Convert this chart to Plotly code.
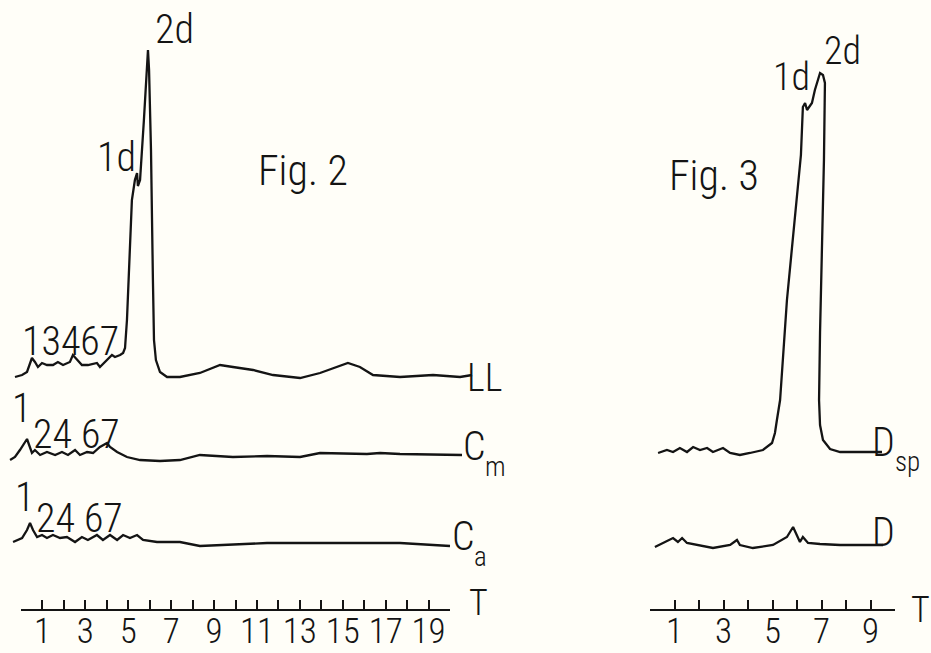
import plotly.graph_objects as go

W, H = 931, 653
INK = "#141414"
BG = "#fffef8"
FONT = "Roboto Condensed, Liberation Sans Narrow, DejaVu Sans Condensed, sans-serif"

# ---------------- Fig. 2 : elution time T (units) vs. signal (arbitrary units) ----
LL_T = [-0.28, 0.05, 0.28, 0.51, 0.65, 0.79, 0.98, 1.21, 1.49, 1.72, 1.96, 2.28, 2.42,
        2.61, 2.84, 3.12, 3.54, 3.68, 4.01, 4.24, 4.38, 4.62, 4.76, 4.85, 4.94, 5.08,
        5.17, 5.31, 5.41, 5.45, 5.55, 5.73, 5.87, 5.92, 5.97, 6.06, 6.15, 6.20, 6.29,
        6.48, 6.81, 7.41, 8.34, 9.28, 9.88, 10.82, 11.75, 13.01, 13.94, 14.73, 15.24,
        15.80, 16.41, 17.67, 19.21, 20.47, 21.03]
LL_A = [0, 2, 5, 19, 15, 10, 14, 12, 12, 15, 12, 15, 22,
        17, 12, 12, 14, 10, 17, 22, 20, 22, 24, 29, 57, 137,
        177, 197, 204, 191, 197, 257, 312, 327, 307, 227, 97, 37, 17,
        5, 0, 0, 4, 12, 10, 7, 2, -1, 4, 10, 14,
        10, 2, 0, 2, 0, 2]

CM_T = [-0.51, -0.28, -0.05, 0.28, 0.51, 0.65, 0.89, 1.21, 1.59, 1.91, 2.19, 2.52, 2.75,
        3.08, 3.36, 3.68, 4.01, 4.15, 4.48, 4.94, 5.55, 6.48, 7.41, 8.34, 9.88, 11.47,
        13.01, 13.94, 16.13, 16.74, 17.67, 20.56]
CM_A = [-3, 0, 7, 18, 4, 7, 2, 5, 2, 5, 2, 7, 2,
        5, 4, 10, 14, 10, 5, 0, -3, -4, -3, 2, 0, 1,
        0, 4, 3, 4, 3, 2]

CA_T = [-0.37, 0.05, 0.28, 0.42, 0.56, 0.75, 0.98, 1.21, 1.49, 1.82, 2.14, 2.52, 2.84,
        3.12, 3.54, 3.82, 4.15, 4.48, 4.76, 5.08, 5.41, 5.69, 6.34, 7.41, 8.34, 11.47,
        14.55, 17.67, 20.0]
CA_A = [1, 5, 13, 20, 13, 6, 8, 5, 8, 5, 6, 1, 6,
        3, 8, 3, 8, 3, 8, 5, 8, 3, 1, 1, -3, 0,
        0, 0, -3]

FIG2_LABEL_TICKS = [1, 3, 5, 7, 9, 11, 13, 15, 17, 19]
FIG2_LABELS = [str(t) for t in FIG2_LABEL_TICKS]

# ---------------- Fig. 3 ---------------------------------------------------------
DSP_T = [0.33, 0.69, 0.94, 1.22, 1.51, 1.76, 2.04, 2.33, 2.57, 2.98, 3.27, 3.67, 4.08,
         4.61, 4.98, 5.10, 5.18, 5.31, 5.59, 5.84, 6.16, 6.24, 6.33, 6.41, 6.61, 6.73,
         6.94, 7.06, 7.14, 7.10, 7.02, 6.94, 6.90, 6.94, 7.06, 7.35, 7.76, 8.45, 9.47]
DSP_A = [-1, 2, 0, 4, 0, 5, 2, 4, 0, 4, -1, -3, -1,
         2, 9, 19, 32, 52, 152, 219, 297, 345, 349, 342, 349, 362,
         379, 377, 369, 292, 219, 119, 52, 27, 12, 3, 0, 0, 0]

D_T = [0.20, 0.61, 0.94, 1.14, 1.31, 1.51, 1.92, 2.57, 3.27, 3.55, 3.67, 4.20, 5.02,
       5.59, 5.84, 6.00, 6.12, 6.24, 6.45, 6.94, 7.76, 9.51]
D_A = [-2, 3, 7, 3, 7, 2, 0, -3, 0, 5, 0, -3, 0,
       8, 18, 10, 3, 8, 2, 1, 0, 0]

FIG3_LABEL_TICKS = [1, 3, 5, 7, 9]
FIG3_LABELS = [str(t) for t in FIG3_LABEL_TICKS]

# ---------------- layout geometry (pixels) ---------------------------------------
AXIS_PY = 609                  # vertical position of both time axes
F2_X0, F2_UNIT = 21, 21.45     # pixel of T=0 and pixels per unit, Fig. 2
F3_X0, F3_UNIT = 650, 24.5     # Fig. 3
F2_DOM = (0.0, 0.56)
F3_DOM = (0.64, 1.0)
# vertical stacking of the traces (signal baselines above the time axis)
BASE = {"LL": AXIS_PY - 377, "Cm": AXIS_PY - 457, "Ca": AXIS_PY - 543,
        "Dsp": AXIS_PY - 452, "D": AXIS_PY - 545}


def xrange_for(dom, x0, unit):
    return [(dom[0] * W - x0) / unit, (dom[1] * W - x0) / unit]


fig = go.Figure()

line = dict(color=INK, width=2.3)


def add(t, a, base, xa):
    fig.add_trace(go.Scatter(x=t, y=[v + base for v in a], mode="lines", line=line,
                             xaxis=xa, yaxis="y", showlegend=False, hoverinfo="skip"))


add(LL_T, LL_A, BASE["LL"], "x")
add(CM_T, CM_A, BASE["Cm"], "x")
add(CA_T, CA_A, BASE["Ca"], "x")
add(DSP_T, DSP_A, BASE["Dsp"], "x2")
add(D_T, D_A, BASE["D"], "x2")

# dummy traces so that the two scale axes form subplots
fig.add_trace(go.Scatter(x=[0, 20], y=[None, None], xaxis="x3", yaxis="y",
                         showlegend=False, hoverinfo="skip"))
fig.add_trace(go.Scatter(x=[0, 10], y=[None, None], xaxis="x4", yaxis="y",
                         showlegend=False, hoverinfo="skip"))

hidden = dict(visible=False, showgrid=False, zeroline=False, fixedrange=True, automargin=False)


def scale_axis(x0, unit, n, ticks, labels):
    return dict(
        domain=[x0 / W, (x0 + n * unit) / W], range=[0, n], anchor="y",
        showline=True, linecolor=INK, linewidth=2,
        tickmode="array", tickvals=ticks, ticktext=labels, tickangle=0,
        ticks="inside", ticklen=9, tickwidth=2, tickcolor=INK,
        minor=dict(tick0=0, dtick=1, ticks="inside", ticklen=9, tickwidth=2,
                   tickcolor=INK, showgrid=False),
        tickfont=dict(family=FONT, size=35, color=INK, weight=300),
        ticklabelstandoff=-10, automargin=False,
        showgrid=False, zeroline=False, fixedrange=True,
    )


fig.update_layout(
    template="none",
    width=W, height=H,
    margin=dict(l=0, r=0, t=0, b=0, pad=0),
    paper_bgcolor=BG, plot_bgcolor="rgba(0,0,0,0)",
    xaxis=dict(domain=list(F2_DOM), range=xrange_for(F2_DOM, F2_X0, F2_UNIT), **hidden),
    xaxis2=dict(domain=list(F3_DOM), range=xrange_for(F3_DOM, F3_X0, F3_UNIT), **hidden),
    xaxis3=scale_axis(F2_X0, F2_UNIT, 20, FIG2_LABEL_TICKS, FIG2_LABELS),
    xaxis4=scale_axis(F3_X0, F3_UNIT, 10, FIG3_LABEL_TICKS, FIG3_LABELS),
    yaxis=dict(domain=[(H - AXIS_PY) / H, 1], range=[0, AXIS_PY], **hidden),
)


def txt(text, px, py, size=40, xanchor="center"):
    fig.add_annotation(text=text, x=px / W, y=1 - py / H, xref="paper", yref="paper",
                       showarrow=False, xanchor=xanchor, yanchor="middle", borderpad=0,
                       font=dict(family=FONT, size=size, color=INK, weight=300))


# figure titles
txt("Fig. 2", 303, 171, 42)
txt("Fig. 3", 714, 175, 42)
# main peaks
txt("1d", 117, 157)
txt("2d", 174, 29)
txt("1d", 791, 77, 38)
txt("2d", 842, 51, 38)
# trace names (letter + lowered index)
txt("LL", 466, 378, 38, "left")
txt("C", 462, 446, 40, "left")
txt("m", 484, 467, 27, "left")
txt("C", 451, 536, 40, "left")
txt("a", 473, 557, 27, "left")
txt("D", 871, 442, 40, "left")
txt("sp", 894, 462, 27, "left")
txt("D", 871, 532, 40, "left")
# axis names
txt("T", 479, 603, 36)
txt("T", 920, 610, 36)
# small peak numbers
txt("13467", 70, 341)
txt("1", 21, 408)
txt("24 67", 76, 434)
txt("1", 24, 497)
txt("24 67", 79, 518)

fig.write_html("out.html", config={"displayModeBar": False},
               post_script="document.body.style.margin='0';")
